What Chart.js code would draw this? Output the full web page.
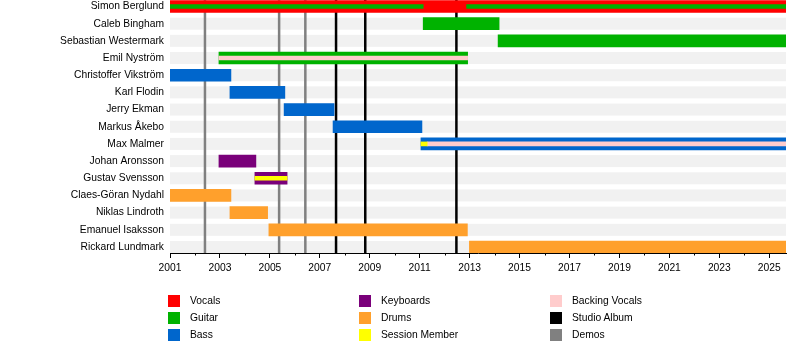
<!DOCTYPE html>
<html>
<head>
<meta charset="utf-8">
<script src="https://cdn.jsdelivr.net/npm/chart.js@4"></script>
<style>
  html, body { margin: 0; padding: 0; background: #fff; }
  #wrap { position: relative; width: 800px; height: 352px; }
  #legend { position: absolute; left: 0; top: 0; width: 800px; height: 352px; pointer-events: none;
            font-family: 'Liberation Sans', Arial, sans-serif; font-size: 10.3px; color: #000; }
  .li { position: absolute; height: 12px; line-height: 12px; white-space: nowrap; }
  .sw { position: absolute; left: 0; top: 0; width: 12px; height: 12px; }
  .tx { position: absolute; left: 22px; top: 0; }
</style>
</head>
<body>
<div id="wrap">
  <canvas id="c" width="800" height="352"></canvas>
  <div id="legend"></div>
</div>
<script>
// ---- data ----
const members = ["Simon Berglund", "Caleb Bingham", "Sebastian Westermark", "Emil Nyström",
  "Christoffer Vikström", "Karl Flodin", "Jerry Ekman", "Markus Åkebo", "Max Malmer",
  "Johan Aronsson", "Gustav Svensson", "Claes-Göran Nydahl", "Niklas Lindroth",
  "Emanuel Isaksson", "Rickard Lundmark"];
const START = 2001;
const END = 2025.67;
const oddYearTicks = [2001, 2003, 2005, 2007, 2009, 2011, 2013, 2015, 2017, 2019, 2021, 2023, 2025];

// main (full-width) role bars: [member, from, to]
const vocalsMain = [["Simon Berglund", 2001, END]];
const guitarMain = [["Caleb Bingham", 2011.14, 2014.18], ["Sebastian Westermark", 2014.14, END],
  ["Emil Nyström", 2002.96, 2012.92]];
const bassMain = [["Christoffer Vikström", 2001, 2003.44], ["Karl Flodin", 2003.4, 2005.6],
  ["Jerry Ekman", 2005.57, 2007.57], ["Markus Åkebo", 2007.53, 2011.09], ["Max Malmer", 2011.05, END]];
const keyboardsMain = [["Johan Aronsson", 2002.96, 2004.44], ["Gustav Svensson", 2004.4, 2005.69]];
const drumsMain = [["Claes-Göran Nydahl", 2001, 2003.44], ["Niklas Lindroth", 2003.4, 2004.91],
  ["Emanuel Isaksson", 2004.96, 2012.91], ["Rickard Lundmark", 2012.99, END]];
// secondary (thin stripe) roles
const guitarStripe = [["Simon Berglund", 2001, 2011.14], ["Simon Berglund", 2012.88, END]];
const backingStripe = [["Emil Nyström", 2002.96, 2012.92], ["Max Malmer", 2011.3, END]];
const sessionStripe = [["Max Malmer", 2011.05, 2011.3], ["Gustav Svensson", 2004.4, 2005.69]];
// vertical event lines
const studioAlbums = [2007.65, 2008.82, 2012.47];
const demos = [2002.4, 2005.37, 2006.42];

const legendLabels = ["Vocals", "Guitar", "Bass", "Keyboards", "Drums", "Session Member",
  "Backing Vocals", "Studio Album", "Demos"];
const colors = {
  "Vocals": "#ff0000", "Guitar": "#00b200", "Bass": "#0066cc", "Keyboards": "#7a007a",
  "Drums": "#ffa02c", "Session Member": "#ffff00", "Backing Vocals": "#ffcccc",
  "Studio Album": "#000000", "Demos": "#808080"
};

// ---- build ----
const toPts = spans => spans.map(s => ({ x: [s[1], s[2]], y: members.indexOf(s[0]) }));
function ds(label, spans, thick, order) {
  return { label, data: toPts(spans), backgroundColor: colors[label], borderWidth: 0,
    barThickness: thick, grouped: false, order };
}
const datasets = [
  ds("Guitar", guitarStripe, 4, 1),
  ds("Backing Vocals", backingStripe, 4, 1),
  ds("Session Member", sessionStripe, 4, 0),
  ds("Vocals", vocalsMain, 12, 5),
  ds("Guitar", guitarMain, 12, 5),
  ds("Bass", bassMain, 12, 5),
  ds("Keyboards", keyboardsMain, 12, 5),
  ds("Drums", drumsMain, 12, 5)
];

const FONT = { family: "'Liberation Sans', Arial, sans-serif", size: 10.3 };

const backPlugin = {
  id: 'back',
  beforeDatasetsDraw(chart) {
    const { ctx, chartArea: a, scales: { x, y } } = chart;
    ctx.save();
    ctx.fillStyle = '#f1f1f1';
    members.forEach((m, i) => {
      const py = y.getPixelForValue(i);
      ctx.fillRect(a.left, py - 6, a.right - a.left, 12);
    });
    const vline = (v, col) => {
      const px = x.getPixelForValue(v);
      ctx.fillStyle = col;
      ctx.fillRect(px - 1.25, a.top, 2.5, a.bottom - a.top);
    };
    demos.forEach(v => vline(v, colors["Demos"]));
    studioAlbums.forEach(v => vline(v, colors["Studio Album"]));
    ctx.restore();
  },
  afterDraw(chart) {
    const { ctx, chartArea: a, scales: { x } } = chart;
    ctx.save();
    ctx.strokeStyle = '#000';
    ctx.lineWidth = 1;
    for (let yr = START + 1; yr <= END; yr += 2) {
      const px = Math.round(x.getPixelForValue(yr)) + 0.5;
      ctx.beginPath();
      ctx.moveTo(px, a.bottom);
      ctx.lineTo(px, a.bottom + 2.5);
      ctx.stroke();
    }
    ctx.restore();
  }
};

new Chart(document.getElementById('c'), {
  type: 'bar',
  data: { datasets },
  plugins: [backPlugin],
  options: {
    indexAxis: 'y',
    responsive: false,
    animation: false,
    layout: { padding: { left: 0, right: 14, top: 0, bottom: 0 } },
    plugins: { legend: { display: false }, tooltip: { enabled: false } },
    scales: {
      x: {
        type: 'linear', min: START, max: END, offset: false, bounds: 'data',
        afterFit: s => { s.height = 99; s.paddingLeft = 0; s.paddingRight = 0; },
        afterBuildTicks: s => { s.ticks = oddYearTicks.map(v => ({ value: v })); },
        ticks: { font: FONT, color: '#000', autoSkip: false, maxRotation: 0, padding: 4,
          callback: v => String(v) },
        grid: { display: true, offset: false, drawOnChartArea: false, drawTicks: true, tickLength: 5,
          color: '#000', tickColor: '#000' },
        border: { display: true, color: '#000', width: 1 }
      },
      y: {
        type: 'linear', reverse: true, min: -0.378, max: 14.35, offset: false, bounds: 'data',
        afterFit: s => { s.width = 170; s.paddingTop = 0; s.paddingBottom = 0; },
        afterBuildTicks: s => { s.ticks = members.map((m, i) => ({ value: i })); },
        ticks: { font: FONT, color: '#000', autoSkip: false, padding: 6,
          callback: v => members[Math.round(v)] ?? '' },
        grid: { display: false, offset: false, drawTicks: false },
        border: { display: false }
      }
    }
  }
});

// HTML legend, three columns
const legend = document.getElementById('legend');
legendLabels.forEach((lab, i) => {
  const col = Math.floor(i / 3), row = i % 3;
  const d = document.createElement('div');
  d.className = 'li';
  d.style.left = (168 + col * 191) + 'px';
  d.style.top = (295 + row * 17) + 'px';
  d.innerHTML = '<span class="sw" style="background:' + colors[lab] + '"></span><span class="tx"></span>';
  d.querySelector('.tx').textContent = lab;
  legend.appendChild(d);
});
</script>
</body>
</html>
